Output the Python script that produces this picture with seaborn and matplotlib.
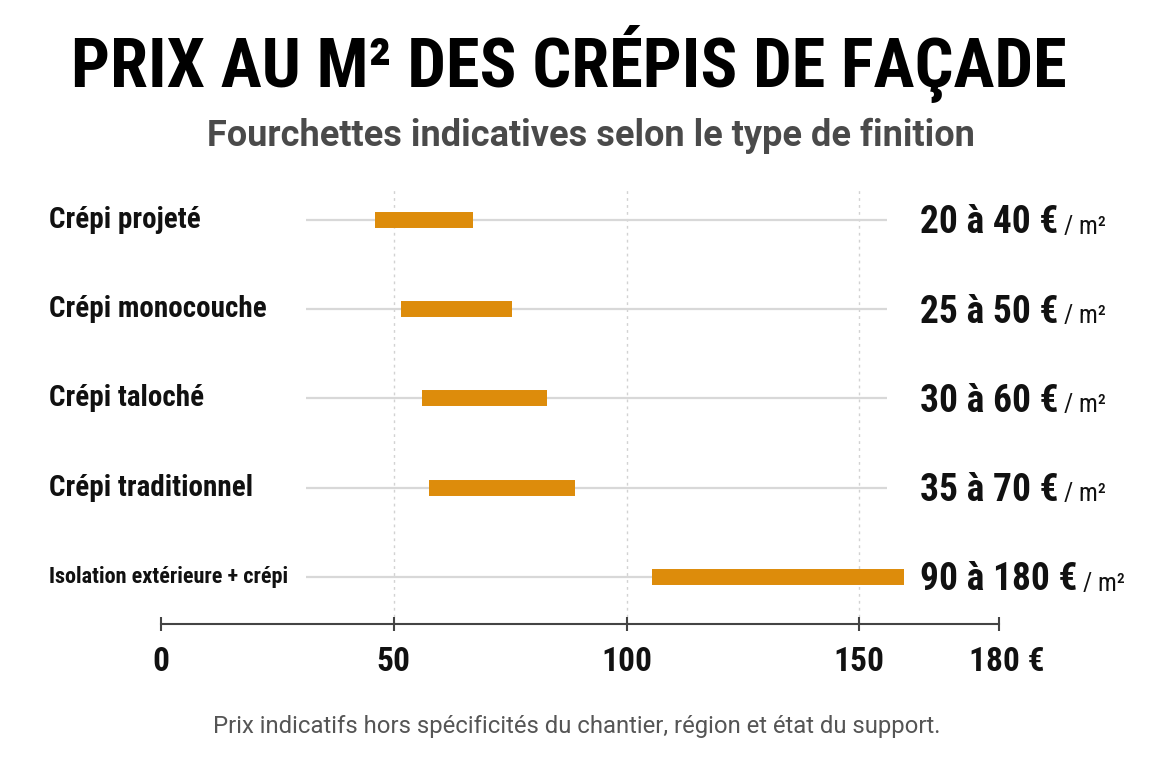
import numpy as np
import pandas as pd
import matplotlib
matplotlib.use("Agg")
import matplotlib.pyplot as plt
import matplotlib.transforms as mtransforms
from matplotlib import font_manager as fm
import seaborn as sns

# Data
finitions = ["Crépi projeté", "Crépi monocouche", "Crépi taloché",
             "Crépi traditionnel", "Isolation extérieure + crépi"]
prix_min = [20, 25, 30, 35, 90]
prix_max = [40, 50, 60, 70, 180]
# where the bars are actually drawn on the axis in the reference
barre_debut = [46, 51.5, 56, 57.5, 105.5]
barre_fin = [67, 75.5, 83, 89, 159.5]
ticks = [0, 50, 100, 150, 180]
tick_labels = ["0", "50", "100", "150", "180 €"]

sns.set_theme(style="white")

# pick a condensed family if one is installed
names = {f.name for f in fm.fontManager.ttflist}
cond = None
for cand in ["Roboto Condensed", "Open Sans Condensed", "Liberation Sans Narrow"]:
    if cand in names:
        cond = cand
        break
stretch = "normal"
if cond is None:
    cond = "DejaVu Sans"
    stretch = "condensed"
plt.rcParams["font.family"] = [cond, "DejaVu Sans"]
plain = ["Roboto", "DejaVu Sans"]

orange = "#DD8C0B"
dark = "#111111"

fig = plt.figure(figsize=(11.52, 7.68), dpi=100)
ax = fig.add_axes([161 / 1152, 1 - 624 / 768, 838 / 1152, 436 / 768])

pos = np.arange(len(finitions))

# background tracks and dotted grid
ax.hlines(pos, 31.2, 156, color="#D8D8D8", lw=1.6, zorder=1)
for t in ticks[1:4]:
    ax.axvline(t, color="#D2D2D2", lw=1, ls=(0, (2, 3)), zorder=0)

long = pd.DataFrame({
    "finition": finitions * 2,
    "prix": barre_debut + barre_fin,
    "pos": list(pos) * 2,
})
sns.lineplot(data=long, x="prix", y="pos", units="finition", estimator=None,
             sort=False, color=orange, lw=11.5, solid_capstyle="butt",
             legend=False, ax=ax, zorder=3)

ax.set_xlim(0, 180)
ax.set_ylim(4.527, -0.358)
ax.set_xlabel("")
ax.set_ylabel("")
ax.set_yticks([])
ax.set_xticks(ticks)
ax.set_xticklabels(tick_labels, fontsize=24, fontweight="bold", color=dark,
                   fontstretch=stretch)
for s in ["top", "left", "right"]:
    ax.spines[s].set_visible(False)
ax.spines["bottom"].set_color("#444444")
ax.spines["bottom"].set_linewidth(1.5)
ax.tick_params(axis="x", bottom=True, direction="inout", length=10, width=1.5,
               color="#444444", pad=11)
# "180 €" sits centred on its number, a bit to the right
last = ax.get_xticklabels()[-1]
last.set_transform(last.get_transform() +
                   mtransforms.ScaledTranslation(0.08, 0, fig.dpi_scale_trans))

# category labels on the left
trans = mtransforms.blended_transform_factory(fig.transFigure, ax.transData)
for i, name in enumerate(finitions):
    size = 16 if i == 4 else 21
    ax.text(49 / 1152, i, name, transform=trans, ha="left", va="center",
            fontsize=size, fontweight="bold", color=dark, fontstretch=stretch)

# price labels on the right
for i, (lo, hi) in enumerate(zip(prix_min, prix_max)):
    t = ax.text(920 / 1152, i + 0.15, f"{lo} à {hi} €", transform=trans,
                ha="left", va="baseline", fontsize=27, fontweight="bold",
                color=dark, fontstretch=stretch)
    ax.annotate("/ m²", xy=(1, 0), xycoords=t, xytext=(4, 2),
                textcoords="offset points", ha="left", va="bottom",
                fontsize=18, color=dark, fontstretch=stretch)

fig.text(569 / 1152, 1 - 64 / 768, "PRIX AU M² DES CRÉPIS DE FAÇADE", ha="center",
         va="center", fontsize=49.3, fontweight="heavy", color="#000000",
         fontstretch=stretch)
fig.text(591 / 1152, 1 - 136 / 768, "Fourchettes indicatives selon le type de finition",
         ha="center", va="center", fontsize=26, fontweight="bold",
         color="#4A4A4A", family=plain)
fig.text(577 / 1152, 1 - 726 / 768,
         "Prix indicatifs hors spécificités du chantier, région et état du support.",
         ha="center", va="center", fontsize=17.2, color="#555555", family=plain)

fig.savefig("out.png", dpi=100, facecolor="white")
